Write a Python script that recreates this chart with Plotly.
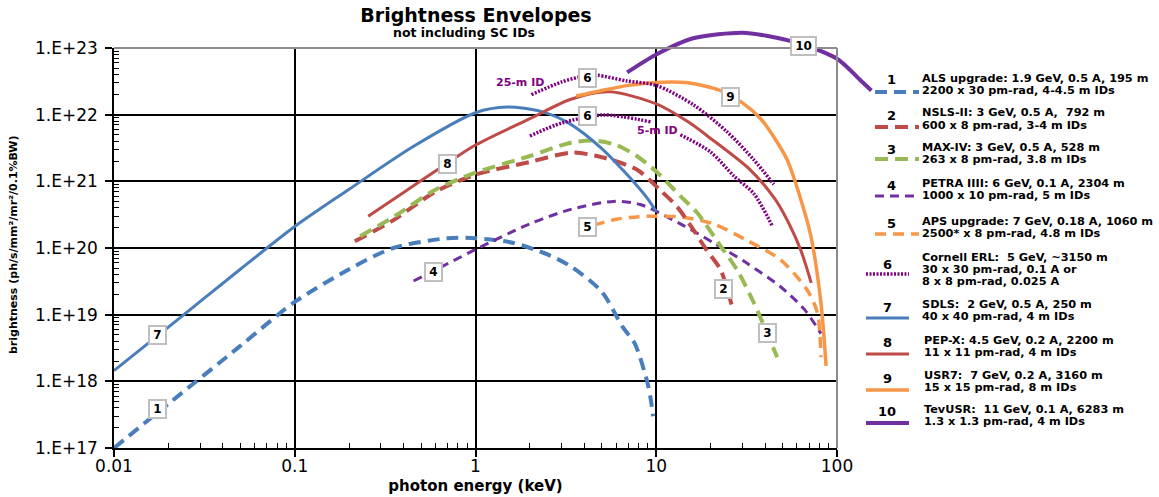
import math
import plotly.graph_objects as go

# ---- photon energy (keV) and brightness per source ----
als_e = [0.01, 0.02, 0.05, 0.1, 0.2, 0.35, 0.7, 1.0, 1.6, 2.5, 3.4, 5.0, 6.5, 7.6, 8.9, 9.3, 9.6]
als_b = [1e17, 4.6e17, 3.4e18, 1.55e19, 4.8e19, 1.0e20, 1.4e20, 1.4e20, 1.2e20, 8e19, 5.2e19,
         2.2e19, 6.6e18, 3.7e18, 1.0e18, 5.6e17, 3e17]

nsls_e = [0.215, 0.35, 0.6, 1.0, 2.0, 3.4, 5.0, 7.8, 10.5, 13.0, 16.0, 19.0, 22.7, 26.3]
nsls_b = [1.26e20, 2.6e20, 7e20, 1.26e21, 1.95e21, 2.7e21, 2.3e21, 1.5e21, 7.4e20, 4.2e20,
          1.9e20, 9.3e19, 4.7e19, 1.3e19]

max_e = [0.23, 0.35, 0.6, 1.0, 2.0, 3.37, 4.5, 6.0, 7.8, 10.0, 13.6, 16.8, 22.7, 28.0, 34.7, 46.7]
max_b = [1.5e20, 2.9e20, 7.5e20, 1.35e21, 2.4e21, 3.8e21, 4.1e21, 3.5e21, 2.4e21, 1.4e21,
         6e20, 3.4e20, 1.07e20, 4.7e19, 1.5e19, 2.3e18]

petra_e = [0.454, 0.7, 1.0, 2.0, 3.37, 5.8, 8.15, 13.6, 20.7, 31.8, 48.9, 66.0, 81.5]
petra_b = [3.2e19, 5.8e19, 9.5e19, 2.3e20, 3.8e20, 5e20, 4.5e20, 2.3e20, 1.2e20, 5.9e19,
           2.6e19, 1.2e19, 5.2e18]

aps_e = [4.5, 6.0, 8.0, 10.0, 14.0, 20.7, 31.8, 48.9, 68.7, 78.0, 81.5]
aps_b = [2.2e20, 2.7e20, 2.95e20, 3e20, 2.9e20, 2.3e20, 1.3e20, 6.6e19, 2.3e19, 1.05e19, 2.3e18]

erl25_e = [2.04, 3.0, 4.0, 4.7, 6.87, 10.0, 16.1, 24.7, 34.7, 44.7]
erl25_b = [2e22, 3.1e22, 3.8e22, 3.9e22, 3.2e22, 2.75e22, 1.4e22, 5.5e21, 2.1e21, 9e20]

erl5_e = [2.0, 3.0, 5.1, 9.3, None, 13.6, 20.0, 26.9, 34.7, 44.0]
erl5_b = [4.8e21, 7.5e21, 9.9e21, 7.8e21, None, 5e21, 2.75e21, 1.2e21, 6.5e20, 2.1e20]

sdls_e = [0.01, 0.02, 0.05, 0.1, 0.2, 0.45, 1.0, 1.5, 2.3, 3.3, 5.0, 6.5, 8.0, 9.0, 10.0]
sdls_b = [1.45e18, 6.5e18, 4.8e19, 2.1e20, 7.6e20, 3.3e21, 1.07e22, 1.3e22, 1.12e22, 7.4e21,
          3.1e21, 1.5e21, 8e20, 5.4e20, 3.5e20]

pepx_e = [0.255, 0.4, 0.64, 1.0, 2.0, 3.37, 5.5, 10.0, 15.0, 20.0, 33.0, 45.0, 51.0, 63.0, 72.0]
pepx_b = [3e20, 6.8e20, 1.6e21, 3.5e21, 8.7e21, 1.7e22, 2.2e22, 1.45e22, 7.8e21, 4.4e21,
          1.5e21, 5.6e20, 3.2e20, 9.3e19, 3e19]

usr7_e = [3.6, 5.0, 7.0, 10.0, 15.0, 22.7, 30.0, 37.8, 45.0, 53.0, 63.0, 71.7, 81.5, 87.0]
usr7_b = [1.9e22, 2.3e22, 2.75e22, 3.05e22, 3e22, 2.3e22, 1.5e22, 8.7e21, 4.5e21, 2.1e21,
          5.4e20, 1.5e20, 1.5e19, 1.7e18]

tev_e = [6.9, 10.0, 16.0, 30.0, 42.0, 58.0, 100.0, 136.0, 155.0]
tev_b = [4.3e22, 8e22, 1.4e23, 1.7e23, 1.5e23, 1.23e23, 6.9e22, 3.2e22, 2.3e22]

# ---- axis ticks ----
x_ticks = [0.01, 0.1, 1, 10, 100]
x_ticktext = ["0.01", "0.1", "1", "10", "100"]
y_ticks = [1e17, 1e18, 1e19, 1e20, 1e21, 1e22, 1e23]
y_ticktext = ["1.E+17", "1.E+18", "1.E+19", "1.E+20", "1.E+21", "1.E+22", "1.E+23"]

# ---- legend texts ----
legend_numbers = ["1", "2", "3", "4", "5", "6", "7", "8", "9", "10"]
legend_texts = [
    ["ALS upgrade: 1.9 GeV, 0.5 A, 195 m", "2200 x 30 pm-rad, 4-4.5 m IDs"],
    ["NSLS-II: 3 GeV, 0.5 A,  792 m", "600 x 8 pm-rad, 3-4 m IDs"],
    ["MAX-IV: 3 GeV, 0.5 A, 528 m", "263 x 8 pm-rad, 3.8 m IDs"],
    ["PETRA IIII: 6 GeV, 0.1 A, 2304 m", "1000 x 10 pm-rad, 5 m IDs"],
    ["APS upgrade: 7 GeV, 0.18 A, 1060 m", "2500* x 8 pm-rad, 4.8 m IDs"],
    ["Cornell ERL:  5 GeV, ~3150 m", "30 x 30 pm-rad, 0.1 A or", "8 x 8 pm-rad, 0.025 A"],
    ["SDLS:  2 GeV, 0.5 A, 250 m", "40 x 40 pm-rad, 4 m IDs"],
    ["PEP-X: 4.5 GeV, 0.2 A, 2200 m", "11 x 11 pm-rad, 4 m IDs"],
    ["USR7:  7 GeV, 0.2 A, 3160 m", "15 x 15 pm-rad, 8 m IDs"],
    ["TevUSR:  11 GeV, 0.1 A, 6283 m", "1.3 x 1.3 pm-rad, 4 m IDs"],
]

# ---- colours and line styles ----
BLUE = "#4A7EBB"
BROWN = "#BE4B48"
GREEN = "#98B954"
PURPLE = "#7030A0"
MAGENTA = "#800080"
ORANGE = "#F79646"

styles = [
    dict(color=BLUE, width=4, dash="12px,7px"),      # 1 ALS
    dict(color=BROWN, width=4, dash="13px,7px"),     # 2 NSLS-II
    dict(color=GREEN, width=4, dash="13px,7px"),     # 3 MAX-IV
    dict(color=PURPLE, width=3, dash="9px,6px"),     # 4 PETRA
    dict(color=ORANGE, width=3.5, dash="11px,7px"),  # 5 APS
    dict(color=MAGENTA, width=3.5, dash="2px,1.5px"),  # 6 Cornell ERL
    dict(color=BLUE, width=3),                       # 7 SDLS
    dict(color=BROWN, width=3),                      # 8 PEP-X
    dict(color=ORANGE, width=3.5),                   # 9 USR7
    dict(color=PURPLE, width=4),                     # 10 TevUSR
]

# Pixel frame: the visible grid spans x 114..837 and y 48..448; the plotting
# area itself reaches x 900 and y 30 so the TevUSR curve can run past the grid.
PLOT_L, PLOT_R, PLOT_T, PLOT_B = 114, 900, 30, 448
VIS_R, VIS_T = 837, 48
DECADE_X = (VIS_R - PLOT_L) / 4.0
DECADE_Y = (PLOT_B - VIS_T) / 6.0


def paper_x(px):
    return (px - PLOT_L) / (PLOT_R - PLOT_L)


def paper_y(py):
    return (PLOT_B - py) / (PLOT_B - PLOT_T)


fig = go.Figure()


def add_curve(e, b, st, xa="x", ya="y"):
    fig.add_trace(go.Scatter(
        x=e, y=b, mode="lines", xaxis=xa, yaxis=ya,
        line=dict(shape="spline", smoothing=0.8, **st),
        connectgaps=False, hoverinfo="skip",
    ))


add_curve(als_e, als_b, styles[0])
add_curve(petra_e, petra_b, styles[3])
add_curve(aps_e, aps_b, styles[4])
add_curve(nsls_e, nsls_b, styles[1])
add_curve(max_e, max_b, styles[2])
add_curve(sdls_e, sdls_b, styles[6])
add_curve(pepx_e, pepx_b, styles[7])
add_curve(usr7_e, usr7_b, styles[8])
add_curve(erl25_e, erl25_b, styles[5])
add_curve(erl5_e, erl5_b, styles[5])
# TevUSR overshoots the grid on top and right, so it sits on a larger twin axis pair
add_curve(tev_e, tev_b, styles[9], xa="x2", ya="y2")

minor_x = [m * 10.0 ** k for k in range(-2, 2) for m in range(2, 10)]
minor_y = [m * 10.0 ** k for k in range(17, 23) for m in range(2, 10)]

axis_common = dict(
    type="log", showline=True, linecolor="black", linewidth=1.5, mirror=False,
    ticks="outside", ticklen=7, tickwidth=1.5, tickcolor="black",
    showgrid=True, gridcolor="black", gridwidth=1.5, automargin=False,
    tickfont=dict(family="DejaVu Sans", size=17, color="black"),
)

fig.update_layout(
    width=1159, height=497,
    margin=dict(l=PLOT_L, r=1159 - PLOT_R, t=PLOT_T, b=497 - PLOT_B, autoexpand=False),
    paper_bgcolor="white", plot_bgcolor="rgba(0,0,0,0)",
    showlegend=False,
    font=dict(family="DejaVu Sans", color="black"),
    xaxis=dict(
        axis_common, range=[-2, 2], domain=[0, paper_x(VIS_R)],
        tickmode="array", tickvals=x_ticks, ticktext=x_ticktext,
        ticklabelstandoff=-5,
        minor=dict(tickmode="array", tickvals=minor_x, ticks="inside", ticklen=5,
                   tickwidth=1, tickcolor="black", showgrid=False),
        title=dict(text="<b>photon energy (keV)</b>", standoff=5,
                   font=dict(family="DejaVu Sans", size=15, color="black")),
        anchor="y",
    ),
    yaxis=dict(
        axis_common, range=[17, 23], domain=[0, paper_y(VIS_T)],
        tickmode="array", tickvals=y_ticks, ticktext=y_ticktext,
        ticklabelstandoff=4,
        minor=dict(tickmode="array", tickvals=minor_y, ticks="inside", ticklen=5,
                   tickwidth=1, tickcolor="black", showgrid=False),
        anchor="x",
    ),
    xaxis2=dict(type="log", range=[-2, -2 + (PLOT_R - PLOT_L) / DECADE_X], domain=[0, 1],
                anchor="y2", visible=False, showgrid=False),
    yaxis2=dict(type="log", range=[17, 17 + (PLOT_B - PLOT_T) / DECADE_Y], domain=[0, 1],
                anchor="x2", visible=False, showgrid=False),
    title=dict(
        text="<b>Brightness Envelopes</b>",
        x=476 / 1159, xanchor="center", xref="container",
        y=1 - 15 / 497, yanchor="middle", yref="container",
        font=dict(family="DejaVu Sans", size=19, color="black"),
    ),
)

annotations = []

# subtitle
annotations.append(dict(
    text="<b>not including SC IDs</b>", xref="paper", yref="paper",
    x=paper_x(464), y=paper_y(33), xanchor="center", yanchor="middle",
    showarrow=False, font=dict(family="DejaVu Sans", size=12.5, color="black"),
))

# vertical axis title, reading bottom to top
annotations.append(dict(
    text="<b>brightness (ph/s/mm²/mr²/0.1%BW)</b>", xref="paper", yref="paper",
    x=paper_x(14), y=paper_y(245), xanchor="center", yanchor="middle", textangle=-90,
    showarrow=False, font=dict(family="DejaVu Sans", size=11, color="black"),
))

# grey frame on the top and right edges of the grid
fig.add_shape(type="line", xref="x domain", yref="y domain", x0=0, x1=1, y0=1, y1=1,
              line=dict(color="#8C8C8C", width=2), layer="above")
fig.add_shape(type="line", xref="x domain", yref="y domain", x0=1, x1=1, y0=0, y1=1,
              line=dict(color="#8C8C8C", width=2), layer="above")

# boxed series numbers along the curves (energy keV, brightness)
curve_tags = [
    ("1", 0.0173, 3.85e17), ("7", 0.0173, 4.95e18), ("8", 0.70, 1.85e21),
    ("4", 0.586, 4.37e19), ("2", 23.7, 2.43e19), ("3", 41.0, 5.3e18),
    ("5", 4.19, 2.07e20), ("6", 4.17, 3.55e22), ("6", 4.17, 9.6e21),
    ("9", 25.8, 1.84e22), ("10", 64.9, 1.08e23),
]
tag_box = dict(bgcolor="white", bordercolor="#BFBFBF", borderwidth=2, borderpad=1,
               showarrow=False, font=dict(family="DejaVu Sans", size=12, color="black"),
               xanchor="center", yanchor="middle", height=14)
for label, e, b in curve_tags:
    annotations.append(dict(tag_box, text="<b>%s</b>" % label, xref="x2", yref="y2",
                            x=math.log10(e), y=math.log10(b),
                            width=13 if len(label) == 1 else 21))

# ID length notes on the Cornell ERL curves
for txt, e, b in [("25-m ID", 1.76, 2.99e22), ("5-m ID", 10.1, 5.7e21)]:
    annotations.append(dict(text="<b>%s</b>" % txt, xref="x", yref="y",
                            x=math.log10(e), y=math.log10(b), showarrow=False,
                            xanchor="center", yanchor="middle",
                            font=dict(family="DejaVu Sans", size=11, color=MAGENTA)))

# legend: number above a line sample, description to the right
sample_y = [92, 127, 159, 196, 234, 274, 318, 354, 390, 423]
number_y = [80, 115, 149, 186, 223, 264, 307, 342, 378, 411]
text_top_y = [78, 113, 147.5, 183.5, 221, 257, 304.5, 340.5, 375, 409.5]
for i, num in enumerate(legend_numbers):
    x0, x1, nx = (875, 919, 891) if i < 5 else (866, 909, 887)
    st = styles[i]
    fig.add_shape(type="line", xref="paper", yref="paper",
                  x0=paper_x(x0), x1=paper_x(x1), y0=paper_y(sample_y[i]), y1=paper_y(sample_y[i]),
                  line=dict(color=st["color"], width=st["width"], dash=st.get("dash", "solid")))
    annotations.append(dict(text="<b>%s</b>" % num, xref="paper", yref="paper",
                            x=paper_x(nx), y=paper_y(number_y[i]), xanchor="center",
                            yanchor="middle", showarrow=False,
                            font=dict(family="DejaVu Sans", size=13, color="black")))
    tx = 920 if i < 7 else 922
    for j, line in enumerate(legend_texts[i]):
        annotations.append(dict(text="<b>%s</b>" % line, xref="paper", yref="paper",
                                x=paper_x(tx), y=paper_y(text_top_y[i] + j * 12.4),
                                xanchor="left", yanchor="middle", showarrow=False,
                                font=dict(family="DejaVu Sans", size=11.3, color="black")))

fig.update_layout(annotations=annotations)

fig.write_html("out.html")
